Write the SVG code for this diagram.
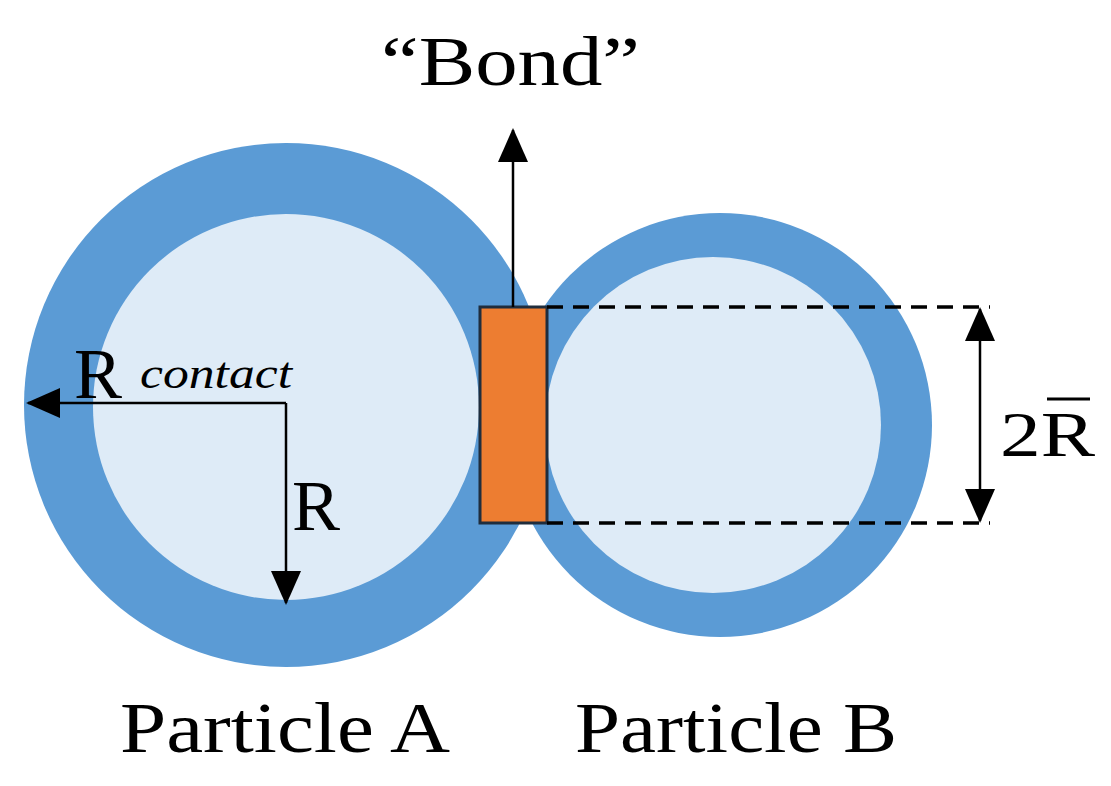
<svg xmlns="http://www.w3.org/2000/svg" width="1111" height="786" viewBox="0 0 1111 786">
<style>
.o{fill:#5B9BD5}.i{fill:#DEEBF7}
text{font-family:"Liberation Serif","DejaVu Serif",serif;fill:#000}
.l{stroke:#000;stroke-width:2.5;fill:none}
.d{stroke:#000;stroke-width:3.5;stroke-dasharray:16 10;fill:none}
</style>
<defs>
<marker id="b" markerWidth="34" markerHeight="34" refX="32" refY="17" orient="auto-start-reverse" markerUnits="userSpaceOnUse" viewBox="0 0 34 34"><path d="M0,2L34,17L0,32z" fill="#000"/></marker></defs>
<g id="particleA"><circle class="o" cx="286" cy="405" r="262"/><circle class="i" cx="286" cy="407" r="193"/></g>
<g id="particleB"><circle class="o" cx="720" cy="425" r="212"/><circle class="i" cx="713" cy="425" r="168"/></g>
<g id="bond"><rect x="480" y="307" width="67" height="216" fill="#ED7D31" stroke="#1F2D3D" stroke-width="3"/></g>
<g id="connectors">
<line class="l" x1="513" y1="307" x2="513" y2="130" marker-end="url(#b)"/>
<line class="l" x1="286" y1="403" x2="28" y2="403" marker-end="url(#b)"/>
<line class="l" x1="286" y1="403" x2="286" y2="603" marker-end="url(#b)"/>
<line class="d" x1="547" y1="307" x2="990" y2="307"/>
<line class="d" x1="547" y1="523" x2="990" y2="523"/>
<line class="l" x1="980" y1="309" x2="980" y2="521" marker-start="url(#b)" marker-end="url(#b)"/>
</g>
<text x="381" y="85" font-size="70" textLength="259" lengthAdjust="spacingAndGlyphs">“Bond”</text>
<text x="74" y="398" font-size="72">R</text>
<text x="140" y="388" font-size="44" font-style="italic" textLength="152" lengthAdjust="spacingAndGlyphs">contact</text>
<text x="292" y="530" font-size="72">R</text>
<text x="1000" y="456" font-size="64" textLength="95" lengthAdjust="spacingAndGlyphs">2R</text>
<line x1="1047" y1="399" x2="1090" y2="399" stroke="#000" stroke-width="3"/>
<text x="120" y="752" font-size="72" textLength="330" lengthAdjust="spacingAndGlyphs">Particle A</text>
<text x="575" y="752" font-size="72" textLength="322" lengthAdjust="spacingAndGlyphs">Particle B</text>
</svg>
